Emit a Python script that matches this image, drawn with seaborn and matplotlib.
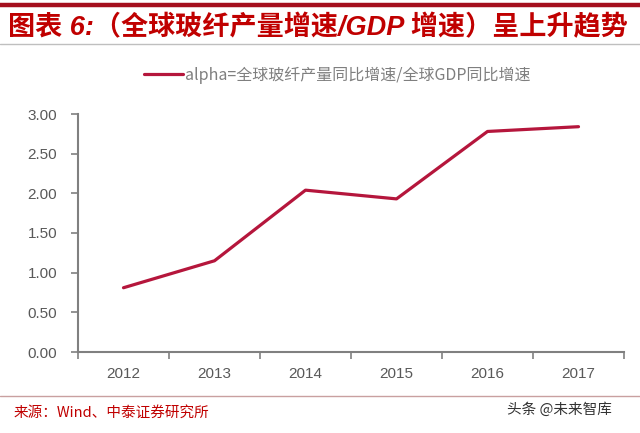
import matplotlib
matplotlib.use("Agg")
import matplotlib.pyplot as plt
from matplotlib.lines import Line2D
from matplotlib.ticker import FixedLocator
import seaborn as sns
import pandas as pd

years = ["2012", "2013", "2014", "2015", "2016", "2017"]
alpha_values = [0.81, 1.15, 2.04, 1.93, 2.78, 2.84]
series_name = "alpha=全球玻纤产量同比增速/全球GDP同比增速"
yticks = [0.0, 0.5, 1.0, 1.5, 2.0, 2.5, 3.0]
title_text = "图表 6:（全球玻纤产量增速/GDP 增速）呈上升趋势"
source_text = "来源：Wind、中泰证券研究所"
watermark_text = "头条 @未来智库"

sns.set_theme(style="white")
plt.rcParams["font.family"] = ["Liberation Sans", "Noto Sans CJK SC", "DejaVu Sans"]

df = pd.DataFrame({"year": years, "alpha": alpha_values})

fig = plt.figure(figsize=(6.4, 4.33), dpi=100)
ax = fig.add_axes([78 / 640, 1 - 352 / 433, (624 - 78) / 640, (352 - 114) / 433])

line_color = "#B5163C"
sns.lineplot(data=df, x="year", y="alpha", ax=ax, color=line_color, linewidth=2.3,
             sort=False, legend=False)

ax.set_ylim(0, 3.0)
ax.set_xlim(-0.5, len(years) - 0.5)
ax.set_yticks(yticks)
ax.set_yticklabels([f"{v:.2f}" for v in yticks])
ax.set_xticks(range(len(years)))
ax.set_xticklabels(years)
ax.xaxis.set_minor_locator(FixedLocator([i - 0.5 for i in range(len(years) + 1)]))
ax.set_xlabel("")
ax.set_ylabel("")

grey = "#808080"
for side in ["top", "right"]:
    ax.spines[side].set_visible(False)
for side in ["left", "bottom"]:
    ax.spines[side].set_color(grey)
    ax.spines[side].set_linewidth(1.5)

ax.tick_params(axis="y", which="major", direction="out", length=5, width=1.2,
               color=grey, labelcolor="#595959", labelsize=11, pad=10, left=True)
ax.tick_params(axis="x", which="major", length=0, labelcolor="#595959",
               labelsize=11, pad=11, bottom=True)
ax.tick_params(axis="x", which="minor", direction="out", length=5, width=1.2,
               color=grey, bottom=True)

handle = Line2D([], [], color=line_color, linewidth=2.3)
fig.legend([handle], [series_name], loc="center left",
           bbox_to_anchor=(130 / 640, 1 - 75 / 433), frameon=False,
           handlelength=2.4, handletextpad=0.15,
           prop={"family": ["Noto Sans CJK SC", "DejaVu Sans"], "size": 11.5},
           labelcolor="#7F7F7F")

# header decorations
fig.add_artist(Line2D([0, 1], [1 - 5 / 433, 1 - 5 / 433], transform=fig.transFigure,
                      color="#A50F1E", linewidth=3.2))
fig.add_artist(Line2D([0, 1], [1 - 44 / 433, 1 - 44 / 433], transform=fig.transFigure,
                      color="#BFBFBF", linewidth=1.0))
fig.add_artist(Line2D([0, 1], [1 - 396 / 433, 1 - 396 / 433], transform=fig.transFigure,
                      color="#C9A0A0", linewidth=1.0))

fig.text(8 / 640, 1 - 28 / 433, title_text, ha="left", va="center",
         color="#C00000", fontsize=19.5, fontweight="bold", fontstyle="italic",
         family=["Liberation Sans", "Noto Sans CJK SC", "DejaVu Sans"])
fig.text(14 / 640, 1 - 413 / 433, source_text, ha="left", va="center",
         color="#C00000", fontsize=10.5,
         family=["Noto Sans CJK SC", "DejaVu Sans"])
fig.text(612 / 640, 1 - 410 / 433, watermark_text, ha="right", va="center",
         color="#333333", fontsize=10.5,
         family=["Noto Sans CJK SC", "DejaVu Sans"])

fig.savefig("out.png", dpi=100)
